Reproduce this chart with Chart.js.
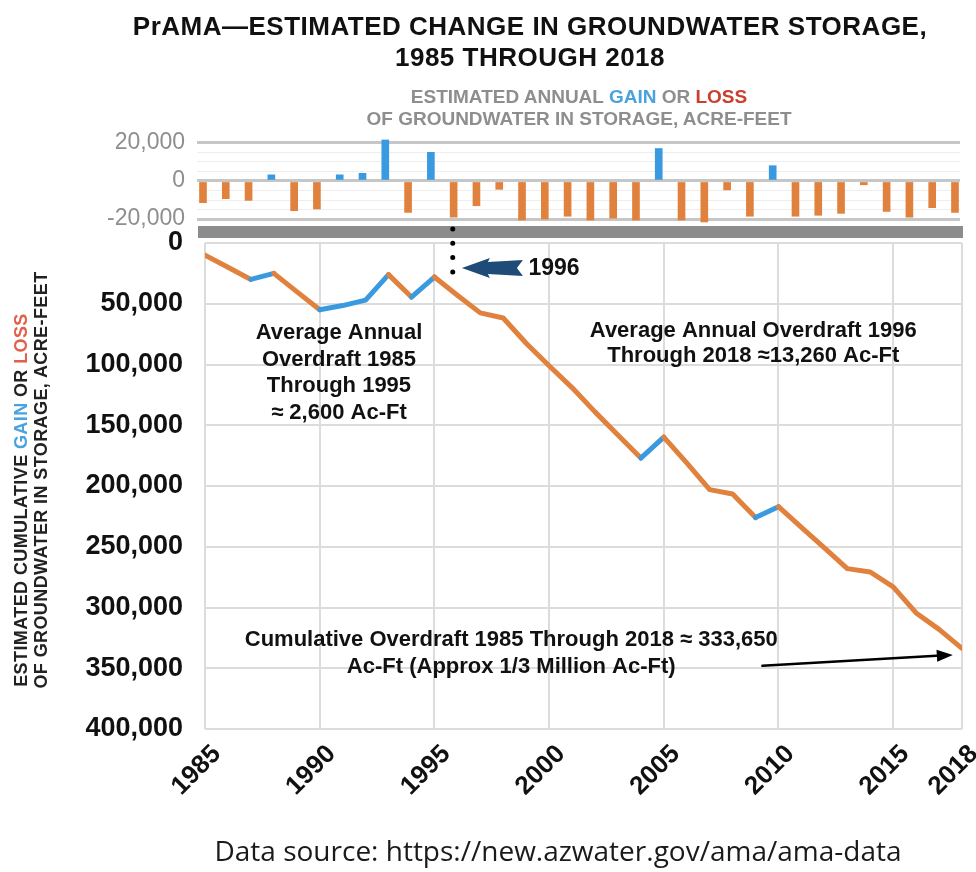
<!DOCTYPE html>
<html>
<head>
<meta charset="utf-8">
<script src="https://cdn.jsdelivr.net/npm/chart.js@4.4.0/dist/chart.umd.min.js"></script>
<style>
  body { margin: 0; background: #fff; }
  #wrap { position: relative; width: 976px; height: 872px; overflow: hidden; font-family: "Liberation Sans", Arial, sans-serif; }
  canvas { position: absolute; left: 0; top: 0; }
  .title { position: absolute; left: 30px; top: 11px; width: 1000px; text-align: center; font-weight: bold; font-size: 26px; letter-spacing: 0.5px; line-height: 31px; color: #111; }
  .sub { position: absolute; left: 179px; top: 86px; width: 800px; text-align: center; font-weight: bold; font-size: 19px; line-height: 22px; color: #8e8e8e; }
  .ytitle { position: absolute; width: 440px; text-align: center; font-weight: bold; font-size: 18px; letter-spacing: 0.4px; line-height: 20px; color: #222; transform: rotate(-90deg); }
  .gain { color: #4aa3df; }
  .loss { color: #c9402f; }
  .src { position: absolute; left: 0; top: 831px; width: 1116px; text-align: center; font-family: "Open Sans", sans-serif; font-size: 28px; line-height: 38px; color: #1a1a1a; }
</style>
</head>
<body>
<div id="wrap">
  <canvas id="bars" width="976" height="872"></canvas>
  <canvas id="cum" width="976" height="872"></canvas>
  <div class="title">PrAMA—ESTIMATED CHANGE IN GROUNDWATER STORAGE,<br>1985 THROUGH 2018</div>
  <div class="sub">ESTIMATED ANNUAL <span class="gain">GAIN</span> OR <span class="loss">LOSS</span><br>OF GROUNDWATER IN STORAGE, ACRE-FEET</div>
  <div class="ytitle" style="left:-199px; top:490px;">ESTIMATED CUMULATIVE <span class="gain">GAIN</span> OR <span class="loss" style="color:#e0604a">LOSS</span></div>
  <div class="ytitle" style="left:-179px; top:470px;">OF GROUNDWATER IN STORAGE, ACRE-FEET</div>
  <div class="src">Data source: https://new.azwater.gov/ama/ama-data</div>
</div>
<script>
var FONT = '"Liberation Sans", Arial, sans-serif';
var ORANGE = '#e0823d';
var BLUE = '#3a9ae0';

var years = [1985, 1986, 1987, 1988, 1989, 1990, 1991, 1992, 1993, 1994,
  1995, 1996, 1997, 1998, 1999, 2000, 2001, 2002, 2003, 2004,
  2005, 2006, 2007, 2008, 2009, 2010, 2011, 2012, 2013, 2014,
  2015, 2016, 2017, 2018];

// annual gain (+) or loss (-), acre-feet
var annualChange = [-11400, -9300, -10200, 3200, -15600, -14700, 3200, 4000, 21500, -16500,
  15000, -19000, -13000, -4400, -20500, -20000, -18500, -20500, -19500, -20500,
  17000, -20500, -21500, -4700, -18500, 8000, -18500, -18000, -17000, -2000,
  -16000, -19000, -14000, -16500];

// cumulative loss since 1985, acre-feet (axis is drawn reversed)
var cumulativeLoss = [10000, 20000, 30000, 25000, 40000, 55000, 51500, 47000, 26000, 44500,
  28000, 43000, 57500, 61700, 82500, 101000, 119000, 139000, 158000, 177000,
  159700, 181000, 203000, 206600, 226000, 217000, 234000, 251000, 268000, 270800,
  283000, 304500, 318000, 333650];

var xTicks = [1985, 1990, 1995, 2000, 2005, 2010, 2015, 2018];
var barTicks = [-20000, -15000, -10000, -5000, 0, 5000, 10000, 15000, 20000];

new Chart(document.getElementById('bars'), {
  type: 'bar',
  data: {
    datasets: [{
      data: years.map(function (y, i) { return { x: y, y: annualChange[i] }; }),
      backgroundColor: function (c) { return c.raw && c.raw.y >= 0 ? BLUE : ORANGE; },
      barThickness: 7,
      clip: false
    }]
  },
  options: {
    responsive: false,
    animation: false,
    layout: { padding: { top: 139, bottom: 651, right: 16, left: 0 } },
    plugins: { legend: { display: false }, tooltip: { enabled: false } },
    scales: {
      x: { type: 'linear', offset: false, min: 1984.737, max: 2018.22, display: false },
      y: {
        min: -21000, max: 22000,
        afterBuildTicks: function (s) { s.ticks = barTicks.map(function (v) { return { value: v }; }); },
        afterFit: function (s) { s.width = 197; },
        border: { display: false },
        grid: {
          drawTicks: false,
          color: function (c) { return c.tick.value % 20000 === 0 ? '#c6c6c6' : '#eeeeee'; },
          lineWidth: function (c) { return c.tick.value % 20000 === 0 ? 3 : 1; }
        },
        ticks: {
          autoSkip: false, padding: 12, color: '#8e8e8e', font: { size: 23, family: FONT },
          callback: function (v) { return v % 20000 === 0 ? v.toLocaleString('en-US') : ''; }
        }
      }
    }
  }
});

var notes = {
  id: 'notes',
  afterDraw: function (chart) {
    var ctx = chart.ctx, a = chart.chartArea;
    var xs = chart.scales.x, ys = chart.scales.y;
    function px(v) { return xs.getPixelForValue(v); }
    function py(v) { return ys.getPixelForValue(v); }
    ctx.save();
    // gray divider band
    ctx.fillStyle = '#8c8c8c';
    ctx.fillRect(a.left - 7, a.top - 17, a.right - a.left + 8, 12);

    // dotted marker at 1996
    var dx = px(1995.8);
    ctx.strokeStyle = '#000';
    ctx.lineWidth = 5;
    ctx.lineCap = 'round';
    ctx.setLineDash([0, 14.3]);
    ctx.beginPath();
    ctx.moveTo(dx, a.top - 14);
    ctx.lineTo(dx, py(24000));
    ctx.stroke();
    ctx.setLineDash([]);

    // blue arrow pointing at 1996
    var tx = px(1996.2), ty = py(20600);
    ctx.fillStyle = '#1f4b78';
    ctx.beginPath();
    ctx.moveTo(tx, ty);
    ctx.lineTo(tx + 28, ty - 10);
    ctx.lineTo(tx + 26, ty - 6);
    ctx.lineTo(tx + 61, ty - 8);
    ctx.lineTo(tx + 55, ty);
    ctx.lineTo(tx + 61, ty + 8);
    ctx.lineTo(tx + 26, ty + 6);
    ctx.lineTo(tx + 28, ty + 10);
    ctx.closePath();
    ctx.fill();

    ctx.fillStyle = '#111';
    ctx.font = 'bold 23px ' + FONT;
    ctx.textBaseline = 'middle';
    ctx.textAlign = 'left';
    ctx.fillText('1996', px(1999.1), py(21400));

    ctx.font = 'bold 22px ' + FONT;
    ctx.textAlign = 'center';
    var left = ['Average Annual', 'Overdraft 1985', 'Through 1995', '\u2248 2,600 Ac-Ft'];
    left.forEach(function (t, i) { ctx.fillText(t, px(1990.84), py(74000) + i * 26.7); });
    var right = ['Average Annual Overdraft 1996', 'Through 2018 \u224813,260 Ac-Ft'];
    right.forEach(function (t, i) { ctx.fillText(t, px(2008.9), py(72400) + i * 24.5); });
    var bottom = ['Cumulative Overdraft 1985 Through 2018 \u2248 333,650', 'Ac-Ft (Approx 1/3 Million Ac-Ft)'];
    bottom.forEach(function (t, i) { ctx.fillText(t, px(1998.35), py(326500) + i * 27); });

    // black arrow to the 2018 value
    var x0 = px(2009.3), y0 = py(348000), x1 = px(2017.6), y1 = py(339000);
    var ang = Math.atan2(y1 - y0, x1 - x0);
    ctx.strokeStyle = '#000';
    ctx.lineWidth = 2.5;
    ctx.beginPath();
    ctx.moveTo(x0, y0);
    ctx.lineTo(x1 - 12 * Math.cos(ang), y1 - 12 * Math.sin(ang));
    ctx.stroke();
    ctx.fillStyle = '#000';
    ctx.beginPath();
    ctx.moveTo(x1, y1);
    ctx.lineTo(x1 - 16 * Math.cos(ang) + 6 * Math.sin(ang), y1 - 16 * Math.sin(ang) - 6 * Math.cos(ang));
    ctx.lineTo(x1 - 16 * Math.cos(ang) - 6 * Math.sin(ang), y1 - 16 * Math.sin(ang) + 6 * Math.cos(ang));
    ctx.closePath();
    ctx.fill();
    ctx.restore();
  }
};

new Chart(document.getElementById('cum'), {
  type: 'line',
  data: {
    datasets: [{
      data: years.map(function (y, i) { return { x: y, y: cumulativeLoss[i] }; }),
      borderColor: ORANGE,
      borderWidth: 5,
      pointRadius: 0,
      tension: 0,
      borderJoinStyle: 'round',
      borderCapStyle: 'round',
      segment: {
        borderColor: function (c) { return c.p1.parsed.y < c.p0.parsed.y ? BLUE : ORANGE; }
      }
    }]
  },
  options: {
    responsive: false,
    animation: false,
    layout: { padding: { top: 243, right: 14, left: 0, bottom: 0 } },
    plugins: { legend: { display: false }, tooltip: { enabled: false } },
    scales: {
      x: {
        type: 'linear', min: 1985, max: 2018,
        afterBuildTicks: function (s) { s.ticks = xTicks.map(function (v) { return { value: v }; }); },
        afterFit: function (s) { s.height = 143; s.paddingLeft = 0; s.paddingRight = 0; },
        border: { display: false },
        grid: { color: '#dcdcdc', lineWidth: 2, drawTicks: false },
        ticks: {
          autoSkip: false, minRotation: 45, maxRotation: 45, padding: 10, labelOffset: 12,
          color: '#111', font: { size: 26, weight: 'bold', family: FONT },
          callback: function (v) { return String(v); }
        }
      },
      y: {
        reverse: true, min: 0, max: 400000,
        afterFit: function (s) { s.width = 205; },
        border: { display: false },
        grid: { color: '#dcdcdc', lineWidth: 2, drawTicks: false },
        ticks: {
          stepSize: 50000, padding: 22,
          color: '#111', font: { size: 27, weight: 'bold', family: FONT },
          callback: function (v) { return v.toLocaleString('en-US'); }
        }
      }
    }
  },
  plugins: [notes]
});
</script>
</body>
</html>
